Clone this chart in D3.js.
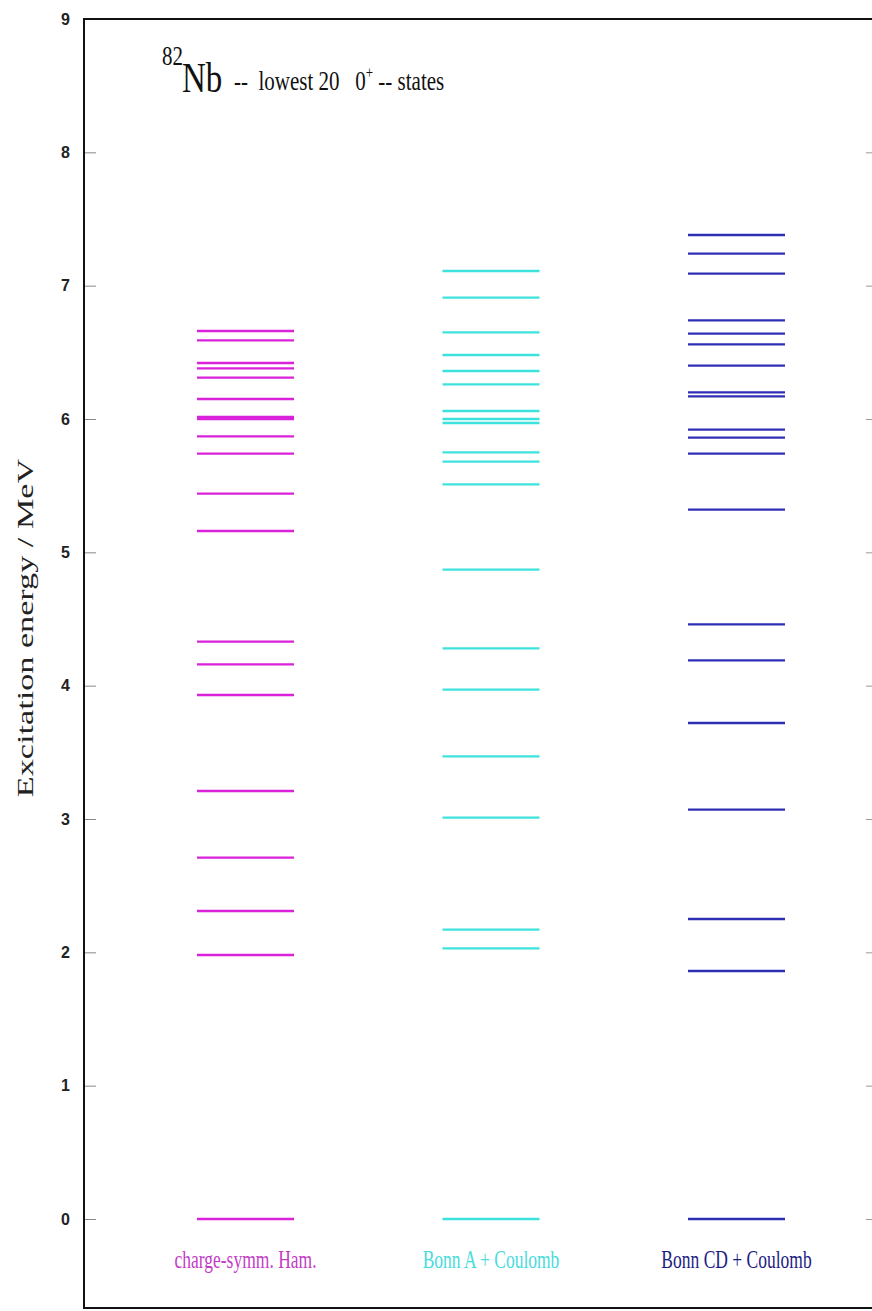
<!DOCTYPE html>
<html>
<head>
<meta charset="utf-8">
<script src="https://cdn.jsdelivr.net/npm/d3@7"></script>
<style>
  html, body { margin: 0; padding: 0; background: #fff; }
  svg { display: block; }
</style>
</head>
<body>
<script>
// Lowest twenty 0+ levels of 82Nb for three shell-model interactions (MeV)
const categories = ["charge-symm. Ham.", "Bonn A + Coulomb", "Bonn CD + Coulomb"];
const chargeSymm = [0, 1.98, 2.31, 2.71, 3.21, 3.93, 4.16, 4.33, 5.16, 5.44,
                    5.74, 5.87, 6.00, 6.015, 6.15, 6.31, 6.38, 6.42, 6.59, 6.66];
const bonnA = [0, 2.03, 2.17, 3.01, 3.47, 3.97, 4.28, 4.87, 5.51, 5.68,
               5.75, 5.97, 6.00, 6.06, 6.26, 6.36, 6.48, 6.65, 6.91, 7.11];
const bonnCD = [0, 1.86, 2.25, 3.07, 3.72, 4.19, 4.46, 5.32, 5.74, 5.86,
                5.92, 6.17, 6.20, 6.40, 6.56, 6.64, 6.74, 7.09, 7.24, 7.38];
const yTicks = [0, 1, 2, 3, 4, 5, 6, 7, 8, 9];

const series = [
  { name: categories[0], values: chargeSymm, line: "#da22da", text: "#c23cc6" },
  { name: categories[1], values: bonnA,      line: "#3ee2dc", text: "#48dcdc" },
  { name: categories[2], values: bonnCD,     line: "#2e2eb4", text: "#1c1c84" }
];

const W = 872, H = 1311;
const frame = { left: 84, top: 19, right: 874, bottom: 1308 };
const serif = "'Liberation Serif', 'Times New Roman', serif";
const sans = "'Liberation Sans', Arial, sans-serif";

const svg = d3.select("body").append("svg")
  .attr("width", W).attr("height", H);

const y = d3.scaleLinear().domain([-0.6675, 9]).range([frame.bottom, frame.top]);
const x = d3.scalePoint().domain(categories).range([245.5, 736.5]);
const halfLen = 48.5;

// left axis: inward grey ticks, bold numbers
const leftAxis = d3.axisLeft(y).tickValues(yTicks).tickSize(0).tickPadding(14)
  .tickFormat(d3.format("d"));
const gL = svg.append("g").attr("transform", `translate(${frame.left},0)`).call(leftAxis);
gL.select(".domain").remove();
gL.selectAll("text")
  .attr("font-family", sans).attr("font-weight", "bold")
  .attr("font-size", 16).attr("fill", "#222");
gL.selectAll(".tick").append("line")
  .attr("x1", 0).attr("x2", 12).attr("stroke", "#8a8a8a").attr("stroke-width", 1);

// right side ticks
const gR = svg.append("g").attr("transform", `translate(${W},0)`)
  .call(d3.axisRight(y).tickValues(yTicks).tickSize(0).tickFormat(""));
gR.select(".domain").remove();
gR.selectAll(".tick").append("line")
  .attr("x1", -6).attr("x2", 0).attr("stroke", "#9a9a9a").attr("stroke-width", 1);

// frame
svg.append("rect")
  .attr("x", frame.left).attr("y", frame.top)
  .attr("width", frame.right - frame.left).attr("height", frame.bottom - frame.top)
  .attr("fill", "none").attr("stroke", "#111").attr("stroke-width", 2);

// energy levels
series.forEach(s => {
  svg.append("g").selectAll("line").data(s.values).join("line")
    .attr("x1", x(s.name) - halfLen).attr("x2", x(s.name) + halfLen)
    .attr("y1", d => y(d)).attr("y2", d => y(d))
    .attr("stroke", s.line).attr("stroke-width", 2.4);
});

// column labels
svg.append("g").selectAll("text").data(series).join("text")
  .attr("transform", d => `translate(${x(d.name)},1268) scale(1,1.5)`)
  .attr("text-anchor", "middle")
  .attr("font-family", serif).attr("font-size", 17.5)
  .attr("fill", d => d.text)
  .text(d => d.name);

// y-axis title
svg.append("text")
  .attr("transform", "translate(33,628) rotate(-90) scale(1.52,1)")
  .attr("text-anchor", "middle")
  .attr("font-family", serif).attr("font-size", 22.5).attr("fill", "#222")
  .text("Excitation energy / MeV");

// plot title
const title = svg.append("g").attr("font-family", serif).attr("fill", "#111");
title.append("text").attr("transform", "translate(162,65) scale(1,1.3)")
  .attr("font-size", 21).text("82");
title.append("text").attr("transform", "translate(182,92) scale(1,1.3)")
  .attr("font-size", 33).text("Nb");
const sub = title.append("text").attr("transform", "translate(234,90) scale(1,1.3)")
  .attr("font-size", 21).attr("xml:space", "preserve");
sub.append("tspan").text("--  lowest 20   0");
sub.append("tspan").attr("font-size", 13).attr("dy", -9).text("+");
sub.append("tspan").attr("dy", 9).text(" -- states");
</script>
</body>
</html>
